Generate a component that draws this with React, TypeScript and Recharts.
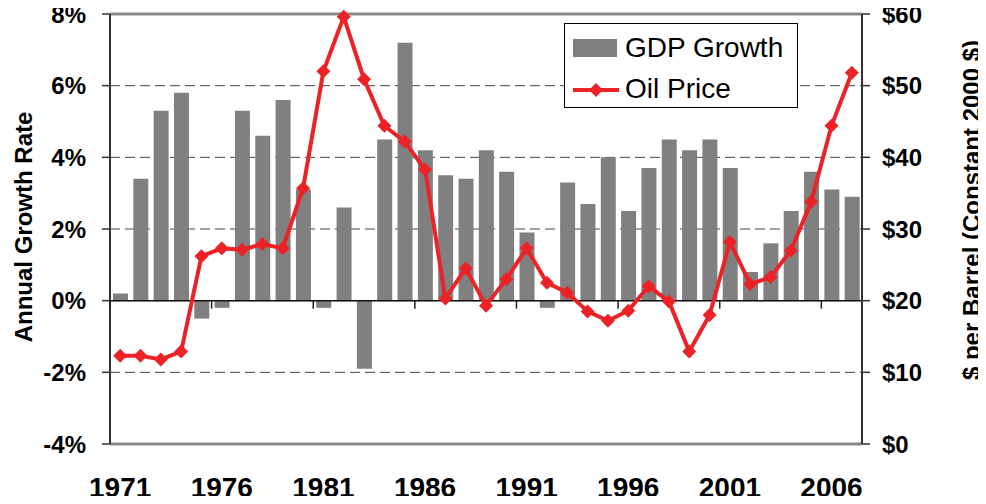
import React from 'react';
import { ComposedChart, Bar, Line, XAxis, YAxis, CartesianGrid, ReferenceLine, Legend } from 'recharts';

const years = [
  '1971', '1972', '1973', '1974', '1975', '1976', '1977', '1978', '1979', '1980',
  '1981', '1982', '1983', '1984', '1985', '1986', '1987', '1988', '1989', '1990',
  '1991', '1992', '1993', '1994', '1995', '1996', '1997', '1998', '1999', '2000',
  '2001', '2002', '2003', '2004', '2005', '2006', '2007',
];

// annual GDP growth, %
const gdpGrowth = [
  0.2, 3.4, 5.3, 5.8, -0.5, -0.2, 5.3, 4.6, 5.6, 3.1,
  -0.2, 2.6, -1.9, 4.5, 7.2, 4.2, 3.5, 3.4, 4.2, 3.6,
  1.9, -0.2, 3.3, 2.7, 4.0, 2.5, 3.7, 4.5, 4.2, 4.5,
  3.7, 0.8, 1.6, 2.5, 3.6, 3.1, 2.9,
];

// oil price, $ per barrel (constant 2000 $)
const oilPrice = [
  12.3, 12.3, 11.8, 12.9, 26.2, 27.3, 27.1, 27.9, 27.3, 35.7,
  52.0, 59.6, 50.9, 44.4, 42.2, 38.3, 20.3, 24.5, 19.3, 23.0,
  27.3, 22.5, 21.1, 18.5, 17.2, 18.6, 22.0, 19.9, 12.9, 18.0,
  28.2, 22.3, 23.3, 27.0, 33.8, 44.4, 51.8,
];

const growthTicks = [-4, -2, 0, 2, 4, 6, 8];
const priceTicks = [0, 10, 20, 30, 40, 50, 60];

const data = years.map((year, i) => ({ year, gdp: gdpGrowth[i], oil: oilPrice[i] }));

const FONT = '"Liberation Sans", Arial, sans-serif';
const RED = '#ec2227';
const GRAY = '#808080';

// plot area geometry
const W = 986;
const H = 504;
const LEFT = 110;
const RIGHT = 862;
const TOP = 14;
const BOTTOM = 444;
const band = (RIGHT - LEFT) / years.length;
const zeroY = TOP + ((8 - 0) / 12) * (BOTTOM - TOP);

const Diamond = (props: any) => {
  const { cx, cy } = props;
  if (cx == null || cy == null) return null;
  const r = 7;
  return (
    <polygon
      points={`${cx},${cy - r} ${cx + r},${cy} ${cx},${cy + r} ${cx - r},${cy}`}
      fill={RED}
    />
  );
};

const YearTick = (props: any) => {
  const { x, payload } = props;
  return (
    <g>
      <line x1={x - band / 2} x2={x - band / 2} y1={zeroY} y2={zeroY + 8} stroke="#222" strokeWidth={1.5} />
      <text x={x} y={497} textAnchor="middle" fontFamily={FONT} fontWeight="bold" fontSize={28} fill="#000">
        {payload.value}
      </text>
    </g>
  );
};

const AxisTitle = ({ x, y, text }: { x: number; y: number; text: string }) => (
  <text
    x={x}
    y={y}
    transform={`rotate(-90, ${x}, ${y})`}
    textAnchor="middle"
    dominantBaseline="central"
    fontFamily={FONT}
    fontWeight="bold"
    fontSize={24}
    fill="#000"
  >
    {text}
  </text>
);

const LegendBox = () => (
  <div
    style={{
      width: 234,
      height: 85,
      boxSizing: 'border-box',
      border: '1.5px solid #000',
      background: '#fff',
      fontFamily: FONT,
      fontSize: 28,
      color: '#000',
      position: 'relative',
    }}
  >
    <div style={{ position: 'absolute', left: 8, top: 15, width: 44, height: 18, background: GRAY }} />
    <div style={{ position: 'absolute', left: 60, top: 8, lineHeight: '32px' }}>GDP Growth</div>
    <svg style={{ position: 'absolute', left: 7, top: 56 }} width={48} height={20}>
      <line x1={1} x2={47} y1={10} y2={10} stroke={RED} strokeWidth={4} />
      <polygon points="24,3 31,10 24,17 17,10" fill={RED} />
    </svg>
    <div style={{ position: 'absolute', left: 60, top: 49, lineHeight: '32px' }}>Oil Price</div>
  </div>
);

const App: React.FC = () => {
  return (
    <div style={{ width: W, height: H, margin: -8, background: '#fff' }}>
      <ComposedChart
        width={W}
        height={H}
        data={data}
        margin={{ top: TOP, right: 0, bottom: 0, left: 0 }}
        barSize={15}
      >
        <CartesianGrid vertical={false} stroke="#444" strokeDasharray="10 5" yAxisId="left" />
        <XAxis
          dataKey="year"
          interval={4}
          axisLine={false}
          tickLine={false}
          height={H - BOTTOM}
          tick={<YearTick />}
        />
        <YAxis
          yAxisId="left"
          domain={[-4, 8]}
          ticks={growthTicks}
          width={LEFT}
          tickFormatter={(v: number) => `${v}%`}
          axisLine={{ stroke: '#333', strokeWidth: 2 }}
          tickLine={{ stroke: '#333', strokeWidth: 1.5 }}
          tickSize={8}
          tickMargin={16}
          tick={{ fontFamily: FONT, fontWeight: 'bold', fontSize: 24, fill: '#000' }}
          label={{ content: () => <AxisTitle x={23} y={227} text="Annual Growth Rate" /> }}
        />
        <YAxis
          yAxisId="right"
          orientation="right"
          domain={[0, 60]}
          ticks={priceTicks}
          width={W - RIGHT}
          tickFormatter={(v: number) => `$${v}`}
          axisLine={{ stroke: '#333', strokeWidth: 2 }}
          tickLine={{ stroke: '#333', strokeWidth: 1.5 }}
          tickSize={8}
          tickMargin={12}
          tick={{ fontFamily: FONT, fontWeight: 'bold', fontSize: 24, fill: '#000' }}
          label={{ content: () => <AxisTitle x={971} y={210} text="$ per Barrel (Constant 2000 $)" /> }}
        />
        <ReferenceLine yAxisId="left" y={8} stroke="#8a8a8a" strokeWidth={3} />
        <ReferenceLine yAxisId="left" y={-4} stroke="#8a8a8a" strokeWidth={3} />
        <Bar yAxisId="left" dataKey="gdp" name="GDP Growth" fill={GRAY} isAnimationActive={false} />
        <ReferenceLine yAxisId="left" y={0} stroke="#111" strokeWidth={1.5} />
        <Line
          yAxisId="right"
          dataKey="oil"
          name="Oil Price"
          type="linear"
          stroke={RED}
          strokeWidth={4}
          dot={<Diamond />}
          activeDot={false}
          isAnimationActive={false}
        />
        <Legend
          layout="vertical"
          align="center"
          verticalAlign="middle"
          wrapperStyle={{ left: 564, top: 23, width: 234, height: 85 }}
          content={<LegendBox />}
        />
      </ComposedChart>
    </div>
  );
};

export default App;
